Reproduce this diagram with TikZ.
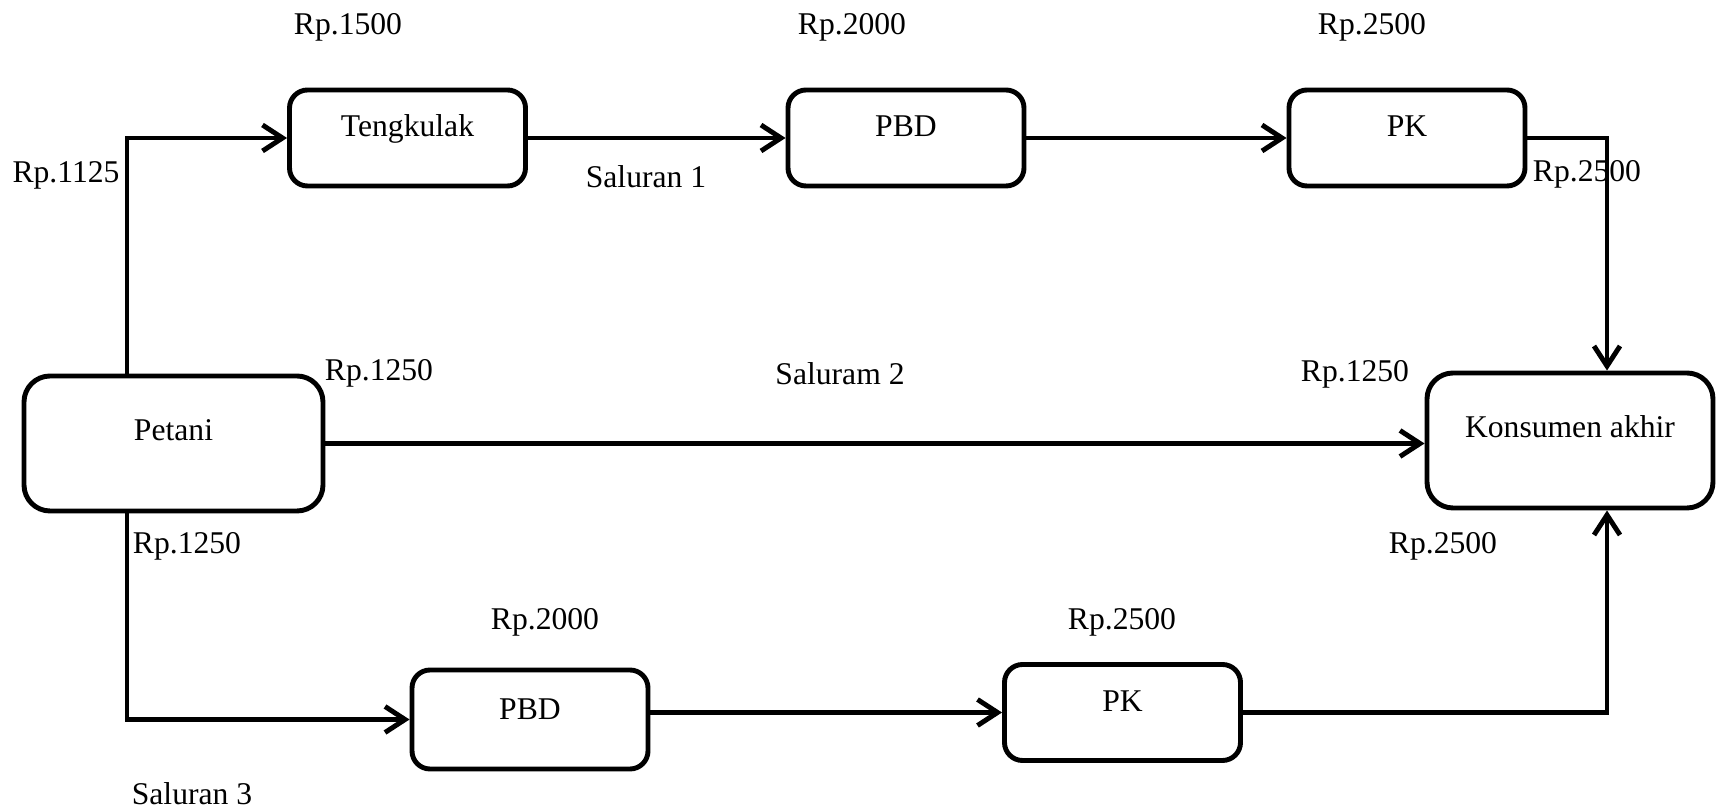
\documentclass[tikz,border=0pt]{standalone}
\usepackage{fontspec}
\setmainfont{Liberation Serif}
\usetikzlibrary{arrows.meta, positioning, calc}

\begin{document}
\begin{tikzpicture}[>={Straight Barb[length=2mm, width=2.6mm]}, line width=1.4pt,
      every node/.style={font=\fontsize{9pt}{11pt}\selectfont},
      box/.style={draw, rounded corners=1.8mm, inner sep=0pt,
        minimum width=2.36cm, text height=4.7mm, text depth=4.9mm},
      bigbox/.style={box, rounded corners=2.6mm, text height=6.5mm,
        text depth=7mm}]
    \useasboundingbox (0,0) rectangle (17.17,8.11);
    % lembaga pemasaran
    \node[box] (tengkulak) at (4.075,6.73) {Tengkulak};
    \node[box] (pbd1) at (9.06,6.73) {PBD};
    \node[box] (pk1) at (14.07,6.73) {PK};
    \node[bigbox, minimum width=2.99cm] (petani) at (1.735,3.675) {Petani};
    \node[bigbox, minimum width=2.86cm] (konsumen) at (15.70,3.705)
      {Konsumen akhir};
    \node[box, text height=5mm] (pbd2) at (5.30,0.915) {PBD};
    \node[box] (pk2) at (11.225,0.985) {PK};
    % harga
    \foreach \n/\x/\y/\t in {h1/3.48/7.84/Rp.1500, h2/8.52/7.84/Rp.2000,
        h3/13.72/7.84/Rp.2500, h4/0.66/6.36/Rp.1125, h5/15.87/6.37/Rp.2500,
        h6/3.79/4.38/Rp.1250, h7/13.55/4.37/Rp.1250, h8/1.87/2.65/Rp.1250,
        h9/14.43/2.65/Rp.2500, h10/5.45/1.89/Rp.2000, h11/11.22/1.89/Rp.2500}{
      \node (\n) at (\x,\y) {\t};
    }
    \node (sal1) at (6.46,6.34) {Saluran 1};
    \node (sal2) at (8.40,4.37) {Saluram 2};
    \node (sal3) at (1.92,0.17) {Saluran 3};
    % saluran
    \coordinate (lx) at (1.27,0);
    \coordinate (rx) at (16.07,0);
    \draw[->] (petani.north -| lx) |- (tengkulak.west);
    \draw[->] (tengkulak) -- (pbd1);
    \draw[->] (pbd1) -- (pk1);
    \draw[->] (pk1.east) -| (konsumen.north -| rx);
    \draw[->] (petani.east) -- (petani.east -| konsumen.west);
    \draw[->] (petani.south -| lx) |- (pbd2.west);
    \draw[->] (pbd2.east |- pk2.west) -- (pk2.west);
    \draw[->] (pk2.east) -| (konsumen.south -| rx);
  \end{tikzpicture}
\end{document}
